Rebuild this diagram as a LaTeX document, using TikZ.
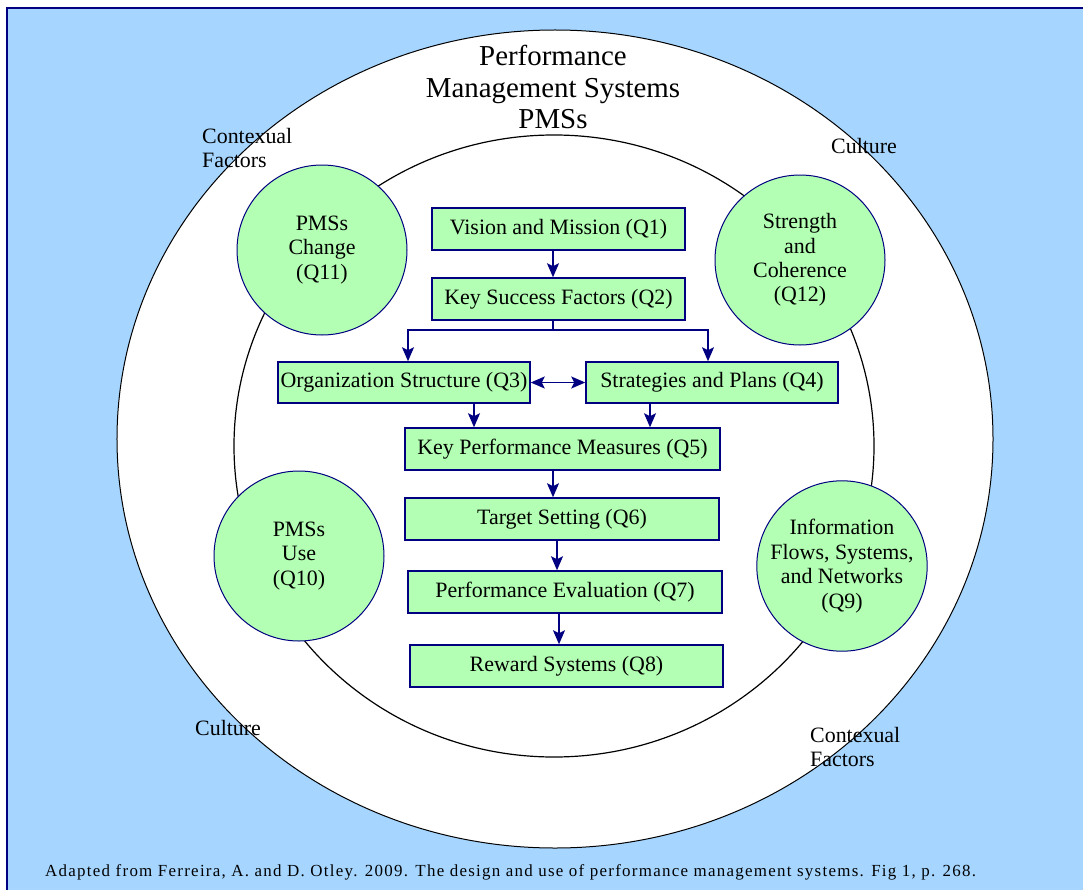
\documentclass[tikz,border=0pt]{standalone}
\usepackage{fontspec}
\setmainfont{Liberation Serif}
\usetikzlibrary{arrows.meta}
\definecolor{bgblue}{RGB}{166,214,255}
\definecolor{navy}{RGB}{0,0,128}
\definecolor{lgreen}{RGB}{179,255,179}
\tikzset{
  qbox/.style={draw=navy, line width=1.5bp, fill=lgreen, minimum height=42bp, inner sep=0pt,
    font=\fontsize{22}{24}\selectfont},
  qcirc/.style={circle, draw=navy, line width=1bp, fill=lgreen, minimum size=170bp, inner sep=0pt,
    align=center, font=\fontsize{22}{24.5}\selectfont},
  lbl/.style={align=left, anchor=north west, inner sep=0pt, font=\fontsize{22}{24}\selectfont},
  arr/.style={navy, line width=1.6bp, -{Stealth[length=14bp, width=12bp, inset=3bp]}},
  darr/.style={navy, line width=1.6bp, {Stealth[length=14bp, width=12bp, inset=3bp]}-{Stealth[length=14bp, width=12bp, inset=3bp]}},
}
\begin{document}
\begin{tikzpicture}[x=1bp, y=-1bp]
\useasboundingbox (0,0) rectangle (1083,890);
% frame
\draw[navy, line width=2bp, fill=bgblue] (7,8) rectangle (1095,900);
% rings
\draw[black, line width=1bp, fill=white] (555,439) ellipse [x radius=438bp, y radius=409bp];
\draw[black, line width=1.2bp] (554,446) ellipse [x radius=320bp, y radius=311bp];
% title
\node[align=center, inner sep=0pt, font=\fontsize{29}{31.5}\selectfont] (title) at (553,87) {Performance\\Management Systems\\PMSs};
% outer labels
\node[lbl] (cf1) at (202,128) {Contexual\\Factors};
\node[lbl] (cu1) at (831,138) {Culture};
\node[lbl] (cu2) at (195,720) {Culture};
\node[lbl] (cf2) at (810,727) {Contexual\\Factors};
% circles
\node[qcirc] (q11) at (322,250) {PMSs\\Change\\(Q11)};
\node[qcirc] (q12) at (800,260) {Strength\\and\\Coherence\\(Q12)};
\node[qcirc] (q10) at (299,556) {PMSs\\Use\\(Q10)};
\node[qcirc] (q9) at (842,566) {Information\\Flows, Systems,\\and Networks\\(Q9)};
% boxes
\node[qbox, minimum width=253bp] (q1) at (558.5,229) {Vision and Mission (Q1)};
\node[qbox, minimum width=253bp] (q2) at (558.5,299) {Key Success Factors (Q2)};
\node[qbox, minimum width=252bp, minimum height=41bp] (q3) at (404,382.5) {Organization Structure (Q3)};
\node[qbox, minimum width=252bp, minimum height=41bp] (q4) at (712,382.5) {Strategies and Plans (Q4)};
\node[qbox, minimum width=315bp] (q5) at (562.5,449) {Key Performance Measures (Q5)};
\node[qbox, minimum width=314bp] (q6) at (562,519) {Target Setting (Q6)};
\node[qbox, minimum width=314bp] (q7) at (565,592) {Performance Evaluation (Q7)};
\node[qbox, minimum width=313bp] (q8) at (566.5,666) {Reward Systems (Q8)};
% connectors
\draw[arr] (q1.south -| 553,0) -- (q2.north -| 553,0);
\draw[navy, line width=1.6bp] (q2.south -| 553,0) -- (553,330) coordinate (split);
\draw[arr] (split) -| (q3.north -| 408,0);
\draw[arr] (split) -| (q4.north -| 708,0);
\draw[darr] (q3.east) -- (q4.west);
\draw[arr] (q3.south -| 474,0) -- (q5.north -| 474,0);
\draw[arr] (q4.south -| 650,0) -- (q5.north -| 650,0);
\draw[arr] (q5.south -| 553,0) -- (q6.north -| 553,0);
\draw[arr] (q6.south -| 557,0) -- (q7.north -| 557,0);
\draw[arr] (q7.south -| 559,0) -- (q8.north -| 559,0);
% caption
\node[anchor=west, inner sep=0pt, font=\fontsize{17}{19}\selectfont\addfontfeature{LetterSpace=7.5}] (cap) at (45,872) {Adapted from Ferreira, A. and D. Otley. 2009. The design and use of performance management systems. Fig 1, p. 268.};
\end{tikzpicture}
\end{document}
